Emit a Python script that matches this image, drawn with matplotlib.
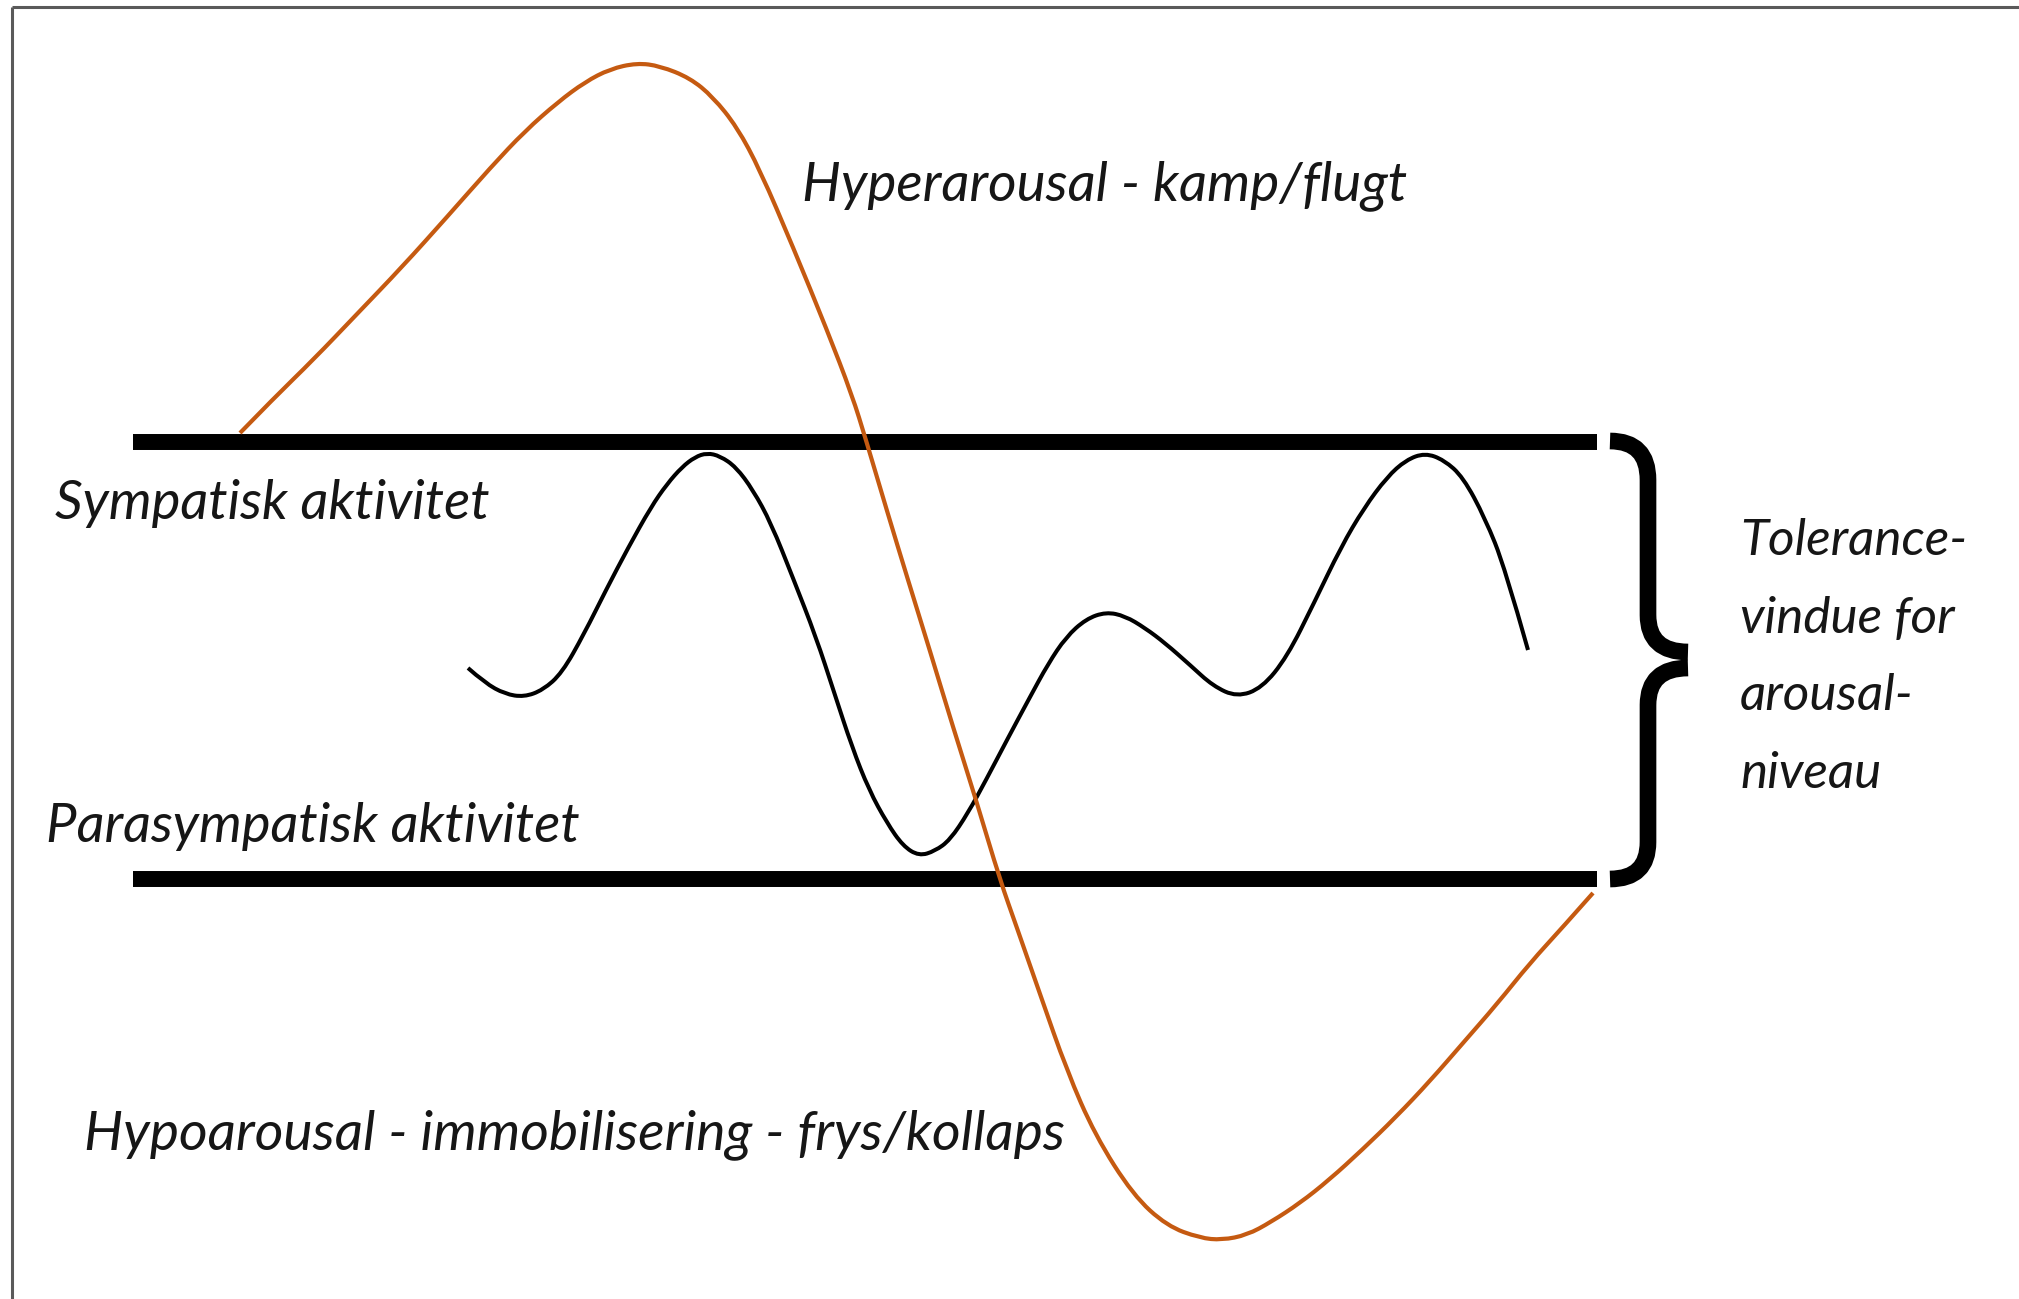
import matplotlib
matplotlib.use("Agg")
import matplotlib.pyplot as plt
from matplotlib.path import Path
from matplotlib.patches import PathPatch

# orange curve (hyper -> hypo arousal), read in picture pixels
orange_x = [240, 275, 313, 357, 402, 447, 491, 525, 558, 585, 610, 637, 660, 690,
            713, 737, 760, 793, 827, 852, 866, 887, 908, 930, 953, 977, 1000, 1017,
            1040, 1067, 1095, 1133, 1167, 1200, 1222, 1247, 1271, 1300, 1329, 1362,
            1396, 1430, 1463, 1497, 1530, 1562, 1593]
orange_y = [433, 397, 360, 314, 267, 217, 167, 131, 102, 82, 69, 63, 66, 78,
            97, 127, 170, 247, 330, 395, 440, 511, 580, 651, 727, 803, 880, 928,
            994, 1071, 1135, 1195, 1226, 1238, 1240, 1235, 1222, 1203, 1180, 1150,
            1117, 1081, 1043, 1004, 963, 928, 893]

# black wave inside the tolerance window
wave_x = [468, 485, 505, 524, 543, 562, 584, 606, 628, 651, 667, 682, 695, 707,
          720, 736, 753, 771, 793, 816, 834, 852, 869, 887, 903, 919, 935, 950,
          968, 986, 1008, 1030, 1048, 1066, 1086, 1106, 1125, 1145, 1165, 1190,
          1213, 1237, 1262, 1287, 1314, 1341, 1364, 1387, 1406, 1425, 1444, 1463,
          1485, 1505, 1528]
wave_y = [668, 683, 694, 697, 690, 673, 634, 590, 548, 507, 484, 467, 457, 453,
          456, 467, 490, 523, 578, 637, 692, 747, 790, 823, 846, 856, 851, 840,
          813, 780, 738, 697, 664, 637, 619, 612, 616, 628, 643, 665,
          686, 697, 688, 657, 603, 547, 508, 477, 460, 453, 460, 477,
          518, 568, 650]

bar_x = [133, 1597]
bar_y = [442, 879]

labels = ["Hyperarousal - kamp/flugt", "Sympatisk aktivitet",
          "Parasympatisk aktivitet", "Hypoarousal - immobilisering - frys/kollaps"]
label_x = [802, 55, 46, 84]
label_base = [200, 519, 842, 1149]
label_width = [605, 434, 533, 979]

side_lines = ["Tolerance-", "vindue for", "arousal-", "niveau"]
side_base = [555, 633, 710, 788]

fam = ["Lato", "Open Sans", "DejaVu Sans"]
txt_col = "#161616"

fig = plt.figure(figsize=(20.19, 12.99), dpi=100)
ax = fig.add_axes([0, 0, 1, 1])
ax.set_xlim(0, 2019)
ax.set_ylim(1299, 0)
ax.axis("off")


def smooth(xs, ys):
    # quadratic bezier path using the read points as control points
    pts = list(zip(xs, ys))
    verts = [pts[0]]
    codes = [Path.MOVETO]
    for i in range(1, len(pts) - 1):
        if i == len(pts) - 2:
            end = pts[-1]
        else:
            end = ((pts[i][0] + pts[i + 1][0]) / 2, (pts[i][1] + pts[i + 1][1]) / 2)
        verts += [pts[i], end]
        codes += [Path.CURVE3, Path.CURVE3]
    return Path(verts, codes)


# frame (only top and left visible)
ax.plot([12, 2019], [7, 7], color="#5a5a5a", lw=2.2, solid_capstyle="butt")
ax.plot([12, 12], [7, 1299], color="#5a5a5a", lw=2.2, solid_capstyle="butt")

# window bars
for y in bar_y:
    ax.plot(bar_x, [y, y], color="black", lw=11.5, solid_capstyle="butt", zorder=2)

ax.add_patch(PathPatch(smooth(wave_x, wave_y), fill=False, edgecolor="black",
                       lw=2.9, capstyle="butt", zorder=3))
ax.add_patch(PathPatch(smooth(orange_x, orange_y), fill=False, edgecolor="#c55a11",
                       lw=3.0, capstyle="butt", zorder=4))

# curly brace
C = Path.CURVE3
upper = Path([(1610, 441), (1648, 441), (1648, 480), (1648, 615), (1648, 652), (1688, 652)],
             [Path.MOVETO, C, C, Path.LINETO, C, C])
lower = Path([(1688, 668), (1648, 668), (1648, 705), (1648, 842), (1648, 879), (1610, 879)],
             [Path.MOVETO, C, C, Path.LINETO, C, C])
for p in (upper, lower):
    ax.add_patch(PathPatch(p, fill=False, lw=12, edgecolor="black", capstyle="butt",
                           joinstyle="round"))

renderer = fig.canvas.get_renderer()


def fit_text(x, y, s, width):
    t = ax.text(x, y, s, fontsize=40, family=fam, style="italic", color=txt_col,
                ha="left", va="baseline")
    w = t.get_window_extent(renderer=renderer).width
    t.set_fontsize(40 * width / w)
    return t


for s, x, y, w in zip(labels, label_x, label_base, label_width):
    fit_text(x, y, s, w)

t0 = fit_text(1740, side_base[0], side_lines[0], 227)
size = t0.get_fontsize()
for s, y in zip(side_lines[1:], side_base[1:]):
    ax.text(1740, y, s, fontsize=size, family=fam, style="italic", color=txt_col,
            ha="left", va="baseline")

fig.savefig("out.png", dpi=100, facecolor="white")
